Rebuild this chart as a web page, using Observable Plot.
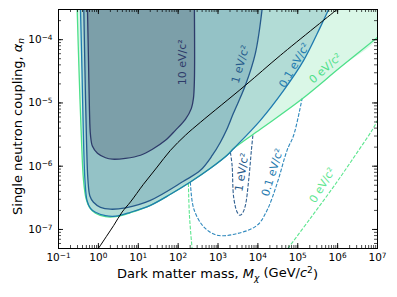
<!DOCTYPE html>
<html><head><meta charset="utf-8">
<script src="https://cdn.jsdelivr.net/npm/d3@7"></script>
<script src="https://cdn.jsdelivr.net/npm/@observablehq/plot@0.6"></script>
<style>
body{margin:0;background:#fff;}
#chart svg{display:block;font-family:"DejaVu Sans",sans-serif;}
</style></head><body><div id="chart"></div>
<script>
// ---- axes ----
const xDomain = [0.1, 1e7];
const yDomain = [5e-8, 3e-4];
const xMajorTicks = [1e-1, 1e0, 1e1, 1e2, 1e3, 1e4, 1e5, 1e6, 1e7];
const xTickExps = ["−1", "0", "1", "2", "3", "4", "5", "6", "7"];
const yMajorTicks = [1e-7, 1e-6, 1e-5, 1e-4];
const yTickExps = ["−7", "−6", "−5", "−4"];

// ---- exclusion contours [mass (GeV/c^2), alpha_n] ----
const contour10eV = [[0.533,3e-4],[0.565,4.7e-5],[0.598,7.6e-6],[0.634,3.1e-6],[0.711,2.06e-6],[0.948,1.6e-6],[1.51,1.36e-6],[2.25,1.29e-6],[4.78,1.33e-6],[11.4,1.49e-6],[22.7,1.85e-6],[48.1,2.56e-6],[85.5,3.69e-6],[152,5.5e-6],[215,8.2e-6],[242,1.18e-5],[256,2.28e-5],[256,3e-4]];
const contour1eV = [[0.431,3e-4],[0.461,3.27e-5],[0.504,2.56e-6],[0.548,6.0e-7],[0.615,3.34e-7],[0.753,2.69e-7],[1.13,2.24e-7],[2.01,2.09e-7],[4.78,2.2e-7],[20.2,2.89e-7],[136,5.78e-7],[362,8.6e-7],[724,1.49e-6],[1148,2.39e-6],[1625,3.69e-6],[2432,6.85e-6],[4864,1.9e-5],[8650,6.08e-5],[12740,3e-4]];
const contour01eV = [[0.356,3e-4],[0.388,3.27e-5],[0.424,2.56e-6],[0.461,6.0e-7],[0.518,2.89e-7],[0.634,2.16e-7],[0.845,1.87e-7],[1.51,1.65e-7],[2.68,1.62e-7],[6.38,1.87e-7],[20.2,2.41e-7],[64.1,3.6e-7],[203,5.62e-7],[645,9.27e-7],[1690,1.49e-6],[2472,1.9e-6],[11560,5.31e-6],[44360,1.58e-5],[140600,4.71e-5],[368000,1.58e-4],[594000,3e-4]];
const contour0eV = [[0.294,3e-4],[0.327,3.27e-5],[0.377,2.56e-6],[0.424,6.0e-7],[0.489,3.11e-7],[0.598,2.24e-7],[0.845,1.8e-7],[1.51,1.59e-7],[2.68,1.59e-7],[6.38,1.84e-7],[20.2,2.41e-7],[64.1,3.6e-7],[203,5.62e-7],[645,9.27e-7],[1690,1.49e-6],[2472,1.9e-6],[11560,3.83e-6],[116100,1.1e-5],[1.17e6,3.65e-5],[1e7,1.09e-4]];

// ---- projected sensitivities (dashed) ----
const proj1eV = [[2046,1.66e-6],[2256,1.03e-6],[2472,3.23e-7],[3013,1.89e-7],[3499,1.68e-7],[4089,1.8e-7],[4864,2.41e-7],[5877,6.0e-7],[6874,1.78e-6],[7499,3.08e-6]];
const proj01eV = [[203,5.62e-7],[246,2.14e-7],[438,1.1e-7],[949,8.1e-8],[3013,8.6e-8],[9550,1.16e-7],[17000,2.01e-7],[30270,5.31e-7],[53950,1.78e-6],[78900,3.08e-6],[128200,1.17e-5]];
const proj0eVLow = [[181,5.37e-7],[192,1.68e-7],[224,5e-8]];
const proj0eVHigh = [[56500,5e-8],[207000,1.5e-7],[875000,5.18e-7],[3.36e6,1.78e-6],[7.28e6,3.69e-6],[1e7,5.31e-6]];

// ---- black bound ----
const bound = [[1.0,5e-8],[1.60,7.8e-8],[2.43,1.16e-7],[3.95,1.89e-7],[6.38,2.72e-7],[13.5,5.18e-7],[29.8,9.7e-7],[64.1,1.78e-6],[152,3.08e-6],[362,4.94e-6],[4864,1.9e-5],[36650,5.65e-5],[966000,3e-4]];

// ---- labels ----
const labelTexts = ["10 eV/c²", "1 eV/c²", "0.1 eV/c²", "0 eV/c²", "1 eV/c²", "0.1 eV/c²", "0 eV/c²"];
const labelMass = [128, 3640, 82200, 492000, 3970, 23100, 414000];
const labelCoupling = [4.38e-5, 4.07e-5, 3.93e-5, 3.52e-5, 8.0e-7, 8.0e-7, 4.99e-7];

const C = {
  fill0: "#daf7e7", fill01: "#b2dcd6", fill1: "#94c2c6", fill10: "#7c9fa9",
  line0: "#4ee08a", line01: "#1f7bb0", line1: "#265a8b", line10: "#2e3b6a"
};
const labelAngles = [-90, -74, -60, -42, -81, -73, -59];
const labelColors = [C.line10, C.line1, C.line01, C.line0, C.line1, C.line01, "#5ee690"];

const W = 397, H = 297, mL = 58, mR = 20, mT = 9, mB = 49;
const iw = W - mL - mR, ih = H - mT - mB;
const xMax = xDomain[1], yMax = yDomain[1];

const xMinor = d3.scaleLog().domain(xDomain).ticks();
const yMinor = d3.scaleLog().domain(yDomain).ticks();

const px = d => d[0], py = d => d[1];
const curve = "catmull-rom";
const fillPoly = (data, color) => Plot.line(data, {x: px, y: py, fill: color, stroke: "none", curve, clip: true});
const strokeLine = (data, color, extra = {}) => Plot.line(data, {x: px, y: py, stroke: color, strokeWidth: 1.3, curve, clip: true, ...extra});
const dash = {strokeWidth: 1.1, strokeDasharray: "3.7,1.6", strokeLinecap: "butt"};

const labelMarks = labelTexts.map((t, i) => Plot.text([i], {
  x: j => labelMass[j], y: j => labelCoupling[j], text: j => labelTexts[j],
  rotate: labelAngles[i], fill: labelColors[i], fontSize: 11
}));

const chart = Plot.plot({
  width: W, height: H, marginLeft: mL, marginRight: mR, marginTop: mT, marginBottom: mB,
  x: {type: "log", domain: xDomain},
  y: {type: "log", domain: yDomain},
  style: {fontFamily: "DejaVu Sans", fontSize: "10.5px", color: "black", background: "white"},
  marks: [
    fillPoly([...contour0eV, [xMax, yMax]], C.fill0),
    fillPoly(contour01eV, C.fill01),
    fillPoly(contour1eV, C.fill1),
    fillPoly(contour10eV, C.fill10),
    strokeLine(proj01eV, "#2e88bd", dash),
    strokeLine(proj1eV, "#2f5f90", dash),
    strokeLine(proj0eVLow, "#5ee690", dash),
    strokeLine(proj0eVHigh, "#5ee690", dash),
    strokeLine(contour0eV, C.line0),
    strokeLine(contour01eV, C.line01),
    strokeLine(contour1eV, C.line1),
    strokeLine(contour10eV, C.line10),
    strokeLine(bound, "black", {strokeWidth: 1}),
    ...labelMarks,
    // inward ticks on all four sides
    Plot.tickX(xMinor, {x: d => d, insetTop: ih - 3, stroke: "black", strokeWidth: 0.7}),
    Plot.tickX(xMinor, {x: d => d, insetBottom: ih - 3, stroke: "black", strokeWidth: 0.7}),
    Plot.tickX(xMajorTicks, {x: d => d, insetTop: ih - 5, stroke: "black", strokeWidth: 0.9}),
    Plot.tickX(xMajorTicks, {x: d => d, insetBottom: ih - 5, stroke: "black", strokeWidth: 0.9}),
    Plot.tickY(yMinor, {y: d => d, insetRight: iw - 3, stroke: "black", strokeWidth: 0.7}),
    Plot.tickY(yMinor, {y: d => d, insetLeft: iw - 3, stroke: "black", strokeWidth: 0.7}),
    Plot.tickY(yMajorTicks, {y: d => d, insetRight: iw - 5, stroke: "black", strokeWidth: 0.9}),
    Plot.tickY(yMajorTicks, {y: d => d, insetLeft: iw - 5, stroke: "black", strokeWidth: 0.9}),
    Plot.frame({stroke: "black", strokeWidth: 1}),
    Plot.axisX(xMajorTicks, {tickSize: 0, tickPadding: 5, label: null, fontSize: 10.5,
      tickFormat: d => "10^" + xTickExps[xMajorTicks.indexOf(d)]}),
    Plot.axisY(yMajorTicks, {tickSize: 0, tickPadding: 6, label: null, fontSize: 10.5,
      tickFormat: d => "10^" + yTickExps[yMajorTicks.indexOf(d)]})
  ]
});

document.getElementById("chart").appendChild(chart);
const svg = d3.select(chart);

// superscript exponents on tick labels
svg.selectAll('g[aria-label="x-axis tick label"] text, g[aria-label="y-axis tick label"] text').each(function() {
  const t = d3.select(this);
  const [base, exp] = t.text().split("^");
  t.text(null);
  t.append("tspan").text(base);
  t.append("tspan").attr("dy", "-0.45em").attr("font-size", "70%").text(exp);
});

// axis titles with math styling
const xl = svg.append("text").attr("x", mL + iw / 2).attr("y", H - 19)
  .attr("text-anchor", "middle").attr("font-size", 13).attr("fill", "black");
xl.append("tspan").text("Dark matter mass, ");
xl.append("tspan").attr("font-style", "italic").text("M");
xl.append("tspan").attr("font-style", "italic").attr("font-size", "70%").attr("dy", "0.3em").text("χ");
xl.append("tspan").attr("dy", "-0.3em").text(" (GeV/");
xl.append("tspan").attr("font-style", "italic").text("c");
xl.append("tspan").attr("font-size", "70%").attr("dy", "-0.45em").text("2");
xl.append("tspan").attr("dy", "0.45em").text(")");

const yl = svg.append("text").attr("transform", `translate(21.5,${mT + ih / 2 - 2}) rotate(-90)`)
  .attr("text-anchor", "middle").attr("font-size", 13).attr("fill", "black");
yl.append("tspan").text("Single neutron coupling, ");
yl.append("tspan").attr("font-style", "italic").text("α");
yl.append("tspan").attr("font-style", "italic").attr("font-size", "70%").attr("dy", "0.3em").text("n");
</script>
</body></html>
